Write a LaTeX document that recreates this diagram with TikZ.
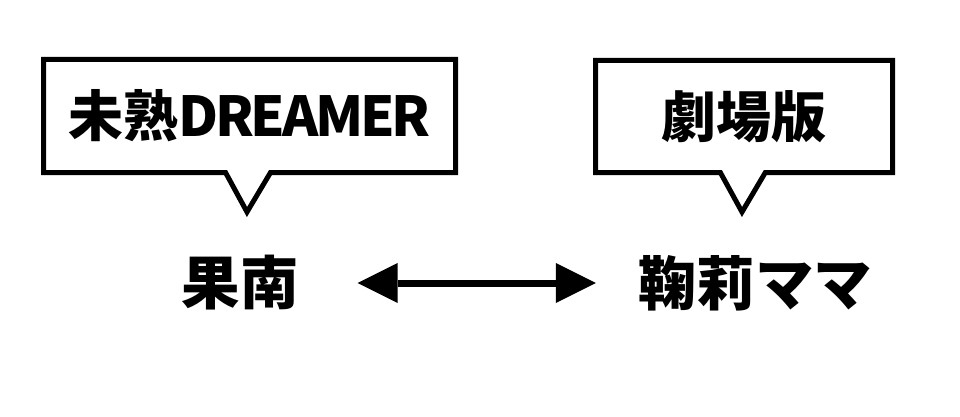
\documentclass[tikz,border=0pt]{standalone}
\usepackage{fontspec}
\usepackage{tikz}
\usetikzlibrary{shapes.callouts,arrows.meta}
\newfontfamily\jpfont{Noto Sans CJK JP}

\tikzset{
  bubble/.style={draw, line width=5pt, rectangle callout, callout pointer width=45pt,
    inner sep=0pt, font=\jpfont\bfseries\fontsize{55}{60}\selectfont},
  person/.style={inner sep=0pt, font=\jpfont\bfseries\fontsize{58.5}{64}\selectfont}
}

\begin{document}
\begin{tikzpicture}[x=1pt, y=-1pt]
    \useasboundingbox (0,0) rectangle (960,417);

    % Bubbles
    \node[bubble, minimum width=412pt, minimum height=113pt,
          callout absolute pointer={(247,212)}] (dreamer) at (249.5,116)
          {未熟{\addfontfeature{LetterSpace=-6}DREAMER}};
    \node[bubble, minimum width=297pt, minimum height=112pt,
          callout absolute pointer={(742,212)}] (movie) at (744,116.5) {劇場版};

    % Names
    \node[person] (kanan) at (240,283) {果南};
    \node[person] (mari) at (755,283) {鞠莉ママ};

    % Link
    \draw[line width=7pt, shorten <=59pt, shorten >=42pt,
          {Triangle[length=40pt,width=40pt,line width'=0pt]}-{Triangle[length=40pt,width=40pt,line width'=0pt]}]
        (kanan) -- (mari);
\end{tikzpicture}
\end{document}
